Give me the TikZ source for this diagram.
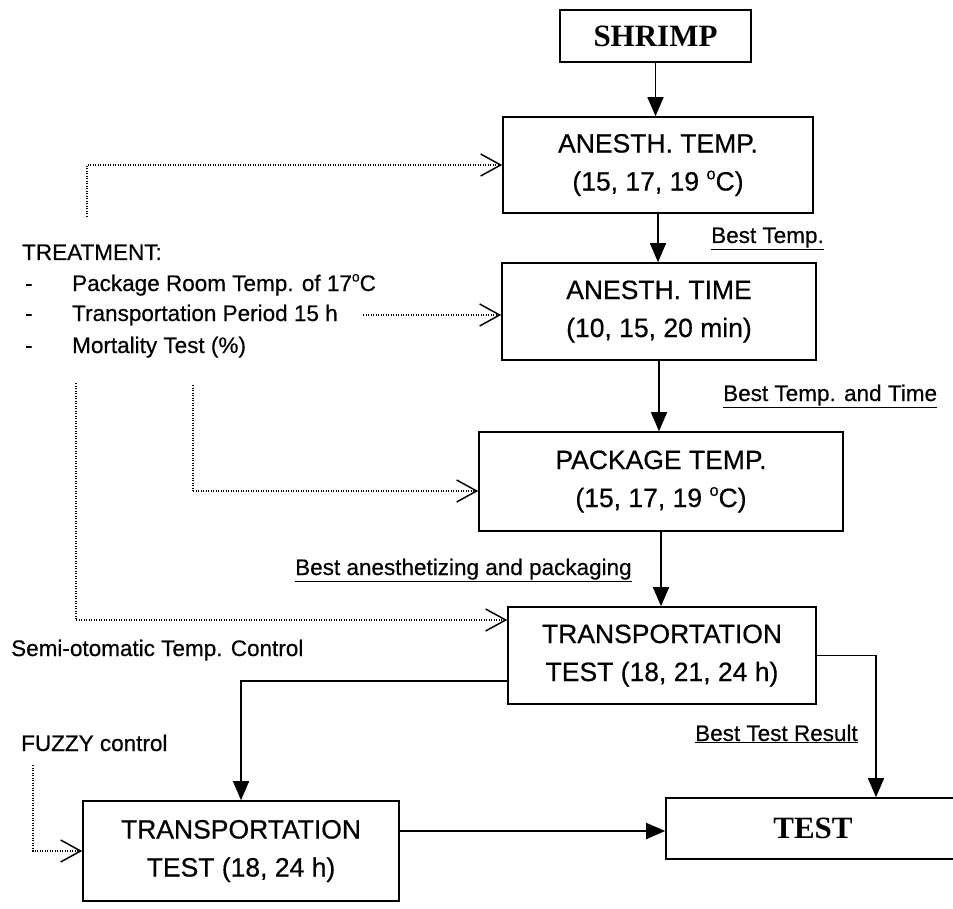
\documentclass[tikz,border=0pt]{standalone}
\usepackage{fontspec}
\setmainfont{Liberation Sans}
\newfontfamily\heavy{Liberation Sans}[BoldFont=Liberation Sans, BoldFeatures={FakeBold=0.5}]
\newfontfamily\tnr{Liberation Serif}
\usetikzlibrary{arrows.meta}
\newcommand\dgo{\raisebox{0.42em}{\scalebox{0.62}{o}}}
\begin{document}
\begin{tikzpicture}[x=1pt,y=-1pt,
  box/.style={draw, line width=1.6pt, inner sep=0pt, align=center,
    font=\heavy\bfseries\fontsize{26.5}{38}\selectfont},
  sbox/.style={draw, line width=1.6pt, inner sep=0pt, align=center,
    font=\tnr\bfseries\fontsize{31}{36}\selectfont},
  lbl/.style={anchor=base west, inner sep=0pt, font=\heavy\bfseries\fontsize{22.5}{27}\selectfont},
  flow/.style={line width=1.5pt, -{Triangle[length=19pt,width=16pt]}},
  dotl/.style={line width=1.4pt, dash pattern=on 1.3pt off 1.2pt,
    -{Straight Barb[length=20pt,width=22pt,line width=1.5pt]}},
  dotn/.style={line width=1.4pt, dash pattern=on 1.3pt off 1.2pt}
]
\useasboundingbox (0,0) rectangle (953,909);

% boxes
\node[sbox, minimum width=191pt, minimum height=52pt] (shrimp) at (655.5,36) {SHRIMP};
\node[box, minimum width=310pt, minimum height=96pt] (atemp) at (658,165)
  {ANESTH. TEMP.\\(15, 17, 19 \dgo C)};
\node[box, minimum width=314pt, minimum height=97pt] (atime) at (659,311.5)
  {ANESTH. TIME\\(10, 15, 20 min)};
\node[box, minimum width=364pt, minimum height=99pt] (ptemp) at (661,481.5)
  {PACKAGE TEMP.\\(15, 17, 19 \dgo C)};
\node[box, minimum width=308pt, minimum height=97pt] (trans1) at (662,655.5)
  {TRANSPORTATION\\TEST (18, 21, 24 h)};
\node[box, minimum width=316pt, minimum height=100pt] (trans2) at (241,851)
  {TRANSPORTATION\\TEST (18, 24 h)};
\node[sbox, minimum width=294pt, minimum height=61pt] (test) at (813,828.5) {TEST};

% labels
\node[lbl] (l1) at (711,243) {\underline{Best Temp.}};
\node[lbl] (l2) at (723,401) {\underline{Best Temp. and Time}};
\node[lbl] (l3) at (295,575) {\underline{Best anesthetizing and packaging}};
\node[lbl] (l4) at (695,741) {\underline{Best Test Result}};
\node[lbl] (tr) at (22,260) {TREATMENT:};
\node[lbl] (da) at (25,291) {-};
\node[lbl] (db) at (25,321) {-};
\node[lbl] (dc) at (25,353) {-};
\node[lbl] (ta) at (72,291) {Package Room Temp. of 17\dgo C};
\node[lbl] (tb) at (72,321) {Transportation Period 15 h};
\node[lbl] (tc) at (72,353) {Mortality Test (\%)};
\node[lbl] (semi) at (11,656) {Semi-otomatic Temp. Control};
\node[lbl] (fuzzy) at (21,751) {FUZZY control};

% solid flow
\draw[flow] (shrimp.south) -- (shrimp.south |- atemp.north);
\draw[flow] (atemp.south) -- (atemp.south |- atime.north);
\draw[flow] (atime.south) -- (atime.south |- ptemp.north);
\draw[flow] (ptemp.south) -- (ptemp.south |- trans1.north);
\coordinate (yl) at (0,681);
\coordinate (xr) at (876,0);
\coordinate (yb) at (0,831);
\draw[flow] (trans1.west |- yl) -| (trans2.north);
\draw[flow] (trans1.east) -| (xr |- test.north);
\draw[flow] (trans2.east |- yb) -- (test.west |- yb);

% dotted
\coordinate (d1) at (87,217);
\draw[dotl] (d1) |- (atemp.west);
\coordinate (d2) at (363,315);
\draw[dotl] (d2) -- (atime.west |- d2);
\coordinate (d3) at (193,385);
\coordinate (e3) at (193,491);
\draw[dotn] (d3) -- (e3);
\draw[dotl] (e3) -- (ptemp.west |- e3);
\coordinate (d4) at (76,383);
\coordinate (e4) at (76,620);
\draw[dotn] (d4) -- (e4);
\draw[dotl] (e4) -- (trans1.west |- e4);
\coordinate (d5) at (33,765);
\draw[dotl] (d5) |- (trans2.west);
\end{tikzpicture}
\end{document}
